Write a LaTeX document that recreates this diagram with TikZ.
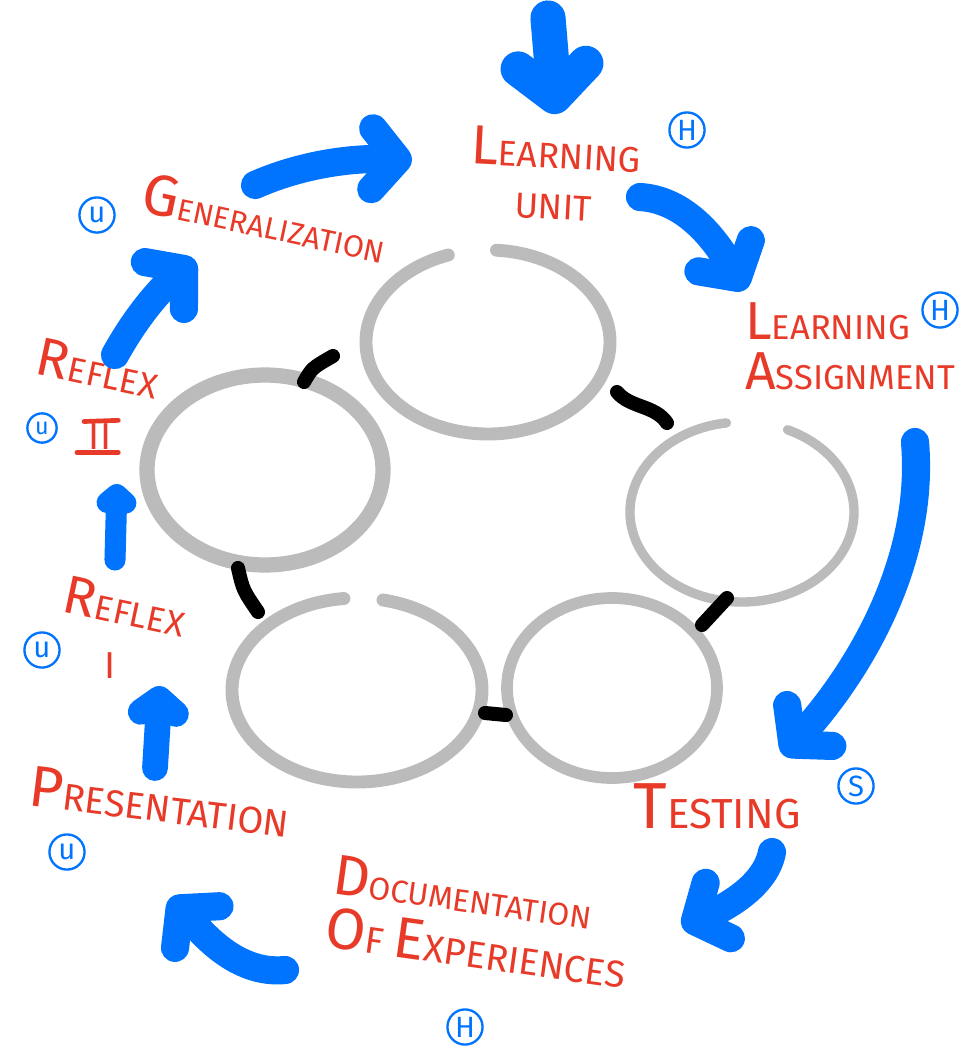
\documentclass[tikz,border=0pt]{standalone}
\usepackage{fontspec}
\usetikzlibrary{arrows.meta}
\newfontfamily\handfont{Fira Sans}
\definecolor{penred}{HTML}{E83A28}
\definecolor{penblue}{HTML}{0074FF}
\definecolor{ringgray}{HTML}{BBBBBB}
% bigger first letter of a word, relative to the current size
\makeatletter
\newcommand\initcap[2][1.55]{{\fontsize{\fpeval{#1*\f@size}}{\f@baselineskip}\selectfont #2}}
\makeatother
\tikzset{
  step label/.style={text=penred, font=\handfont\fontsize{32}{46}\selectfont, align=center, inner sep=0pt},
  tag/.style={circle, draw=penblue, line width=2pt, text=penblue, inner sep=0pt, minimum size=30pt, font=\handfont\fontsize{25}{25}\selectfont},
  flow/.style={draw=penblue, line width=24pt, line cap=round, -{Straight Barb[round, length=22pt, width=52pt]}},
  ring/.style={draw=ringgray, line width=11pt, line cap=round},
  link/.style={draw=black, line width=12pt, line cap=round}
}
\begin{document}
\begin{tikzpicture}[x=0.03cm, y=-0.03cm]
\useasboundingbox[fill=white] (0,0) rectangle (972,1051);

% the five rings in the middle
\draw[ring] (488,342) ++(274:122 and 92) arc[start angle=274, end angle=611, x radius=122, y radius=92];
\draw[ring, line width=13pt] (265,470) ++(235:118 and 95) arc[start angle=235, end angle=600, x radius=118, y radius=95];
\draw[ring, line width=8pt] (742,512) ++(294:112 and 90) arc[start angle=294, end angle=622, x radius=112, y radius=90];
\draw[ring, line width=10pt] (612,688) ++(230:105 and 90) arc[start angle=230, end angle=595, x radius=105, y radius=90];
\draw[ring] (357,690) ++(282:125 and 92) arc[start angle=282, end angle=624, x radius=125, y radius=92];

% links between neighbouring rings
\draw[link] (304,382) .. controls (312,368) .. (333,356);
\draw[link] (617,392) .. controls (630,408) and (655,405) .. (667,423);
\draw[link] (702,625) -- (727,598);
\draw[link] (485,713) -- (506,715);
\draw[link] (238,568) .. controls (243,590) .. (258,612);

% steps of the cycle
\node[step label, rotate=-3, scale=0.95] (unit) at (555,175) {\initcap{L}EARNING\\UNIT};
\node[step label, align=left, anchor=west, scale=0.92] (assign) at (745,346) {\initcap{L}EARNING\\\initcap{A}SSIGNMENT};
\node[step label, scale=1.12] (testing) at (717,806) {\initcap{T}ESTING};
\node[step label, align=left, rotate=-8] (docu) at (480,922)
  {{\fontsize{27}{46}\selectfont\initcap[1.8]{D}OCUMENTATION}\\\initcap{O}F \initcap{E}XPERIENCES};
\node[step label, rotate=-7] (present) at (160,802) {\initcap{P}RESENTATION};
\node[step label, rotate=-12, scale=0.93] (reflex1) at (125,606) {\initcap{R}EFLEX};
\node[step label] (r1num) at (110,666) {I};
\node[step label, rotate=-12, scale=0.93] (reflex2) at (98,368) {\initcap{R}EFLEX};
\node[step label] (r2num) at (100,437) {II};
\draw[penred, line width=4pt, line cap=round] ([xshift=-4pt, yshift=2pt]r2num.north west) -- ([xshift=6pt, yshift=3pt]r2num.north east);
\draw[penred, line width=4pt, line cap=round] ([xshift=-10pt, yshift=-2pt]r2num.south west) -- ([xshift=6pt, yshift=-2pt]r2num.south east);
\node[step label, rotate=-12, font=\handfont\fontsize{26}{40}\selectfont] (general) at (265,218) {\initcap[1.9]{G}ENERALIZATION};

% who takes part in each step
\node[tag] (tag-unit) at (687,130) {H};
\node[tag] (tag-assign) at (940,310) {H};
\node[tag] (tag-test) at (856,786) {S};
\node[tag] (tag-docu) at (465,1027) {H};
\node[tag] (tag-present) at (67,852) {u};
\node[tag] (tag-reflex1) at (42,650) {u};
\node[tag, minimum size=25pt, font=\handfont\fontsize{20}{20}\selectfont] (tag-reflex2) at (42,428) {u};
\node[tag] (tag-general) at (97,215) {u};

% arrows around the cycle
\coordinate (in-top) at (548,18);
\coordinate (in-unit) at (556,114);
\coordinate (unit-out) at (640,197);
\coordinate (assign-in) at (745,290);
\coordinate (assign-out) at (915,442);
\coordinate (test-in) at (783,755);
\coordinate (test-out) at (772,852);
\coordinate (docu-in) at (682,927);
\coordinate (docu-out) at (285,970);
\coordinate (present-in) at (170,898);
\coordinate (present-out) at (155,768);
\coordinate (reflex1-in) at (160,686);
\coordinate (reflex1-out) at (115,560);
\coordinate (reflex2-in) at (117,484);
\coordinate (reflex2-out) at (115,355);
\coordinate (general-in) at (195,260);
\coordinate (general-out) at (255,185);
\coordinate (unit-in) at (412,160);

\draw[flow, line width=30pt, -{Straight Barb[round, length=26pt, width=58pt]}] (in-top) -- (in-unit);
\draw[flow] (unit-out) .. controls (690,200) and (720,248) .. (assign-in);
\draw[flow] (assign-out) .. controls (925,560) and (860,670) .. (test-in);
\draw[flow] (test-out) .. controls (765,890) and (715,912) .. (docu-in);
\draw[flow] (docu-out) .. controls (235,975) and (200,930) .. (present-in);
\draw[flow, line width=22pt, -{Straight Barb[round, length=12pt, width=30pt]}] (present-out) -- (reflex1-in);
\draw[flow, line width=18pt, -{Straight Barb[round, length=7pt, width=16pt]}] (reflex1-out) -- (reflex2-in);
\draw[flow] (reflex2-out) .. controls (140,310) and (165,285) .. (general-in);
\draw[flow] (general-out) .. controls (300,165) and (350,158) .. (unit-in);
\end{tikzpicture}
\end{document}
